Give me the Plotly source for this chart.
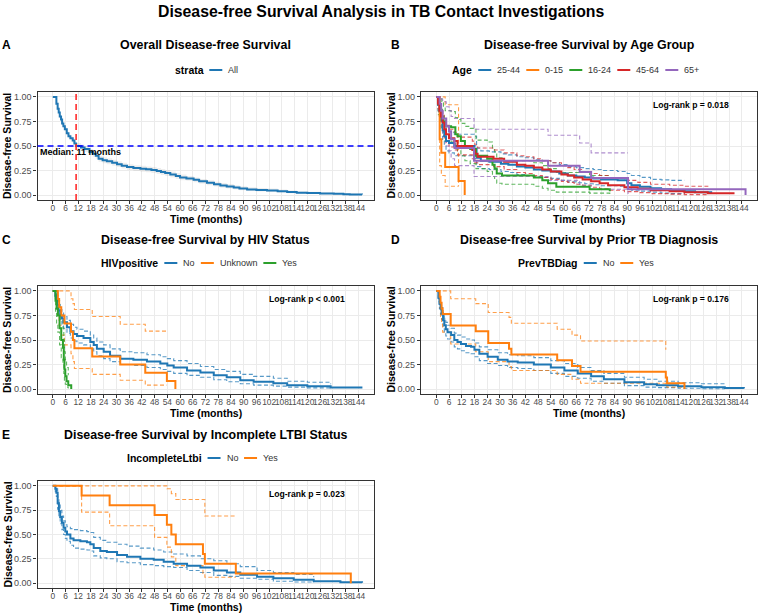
import plotly.graph_objects as go

W, H = 762, 615
FONT = "Liberation Sans, Arial, sans-serif"

# ---------------- data ----------------
TIME_TICKS = [0, 6, 12, 18, 24, 30, 36, 42, 48, 54, 60, 66, 72, 78, 84, 90, 96, 102, 108, 114, 120, 126, 132, 138, 144]
SURV_TICKS = [0, 0.25, 0.5, 0.75, 1.0]
SURV_TICK_TEXT = ["0.00", "0.25", "0.50", "0.75", "1.00"]
MEDIAN_MONTHS = 11

# Panel A: overall
A_t = [0, 1.7, 2.3, 2.8, 3.3, 3.9, 4.4, 5.0, 5.7, 6.6, 7.4, 8.3, 9.4, 10.2, 11.0, 13.3, 15.0, 17.3, 18.9, 20.3,
       21.6, 23.5, 25.5, 28.0, 30.3, 32.5, 35.0, 38.0, 41.3, 44.0, 46.5, 49.0, 51.0, 53.0, 55.4, 58.0, 60.0, 63.0,
       66.4, 69.0, 72.7, 76.0, 79.0, 82.0, 85.3, 88.0, 91.6, 96.0, 101, 106, 110.5, 115, 120, 126, 132.5, 137, 140, 145.8]
A_s = [1.0, 0.93, 0.88, 0.84, 0.80, 0.77, 0.73, 0.70, 0.67, 0.63, 0.60, 0.58, 0.555, 0.525, 0.50, 0.485, 0.47, 0.44,
       0.42, 0.40, 0.37, 0.355, 0.345, 0.33, 0.315, 0.30, 0.285, 0.275, 0.268, 0.262, 0.255, 0.245, 0.235, 0.225, 0.21,
       0.195, 0.18, 0.17, 0.155, 0.14, 0.125, 0.11, 0.098, 0.087, 0.077, 0.067, 0.058, 0.052, 0.048, 0.04, 0.032, 0.025,
       0.021, 0.017, 0.013, 0.009, 0.007, 0.005]
A_hi = [1.0, 0.95, 0.90, 0.86, 0.82, 0.79, 0.75, 0.72, 0.69, 0.65, 0.62, 0.60, 0.58, 0.55, 0.53, 0.515, 0.50, 0.47,
        0.45, 0.43, 0.40, 0.385, 0.375, 0.36, 0.345, 0.33, 0.315, 0.305, 0.298, 0.292, 0.285, 0.275, 0.265, 0.255,
        0.24, 0.225, 0.21, 0.195, 0.18, 0.165, 0.15, 0.135, 0.123, 0.112, 0.1, 0.09, 0.08, 0.072, 0.066, 0.056, 0.047,
        0.04, 0.035, 0.03, 0.025, 0.02, 0.017, 0.015]
A_lo = [1.0, 0.91, 0.86, 0.82, 0.78, 0.75, 0.71, 0.68, 0.65, 0.61, 0.58, 0.56, 0.53, 0.50, 0.47, 0.455, 0.44, 0.41,
        0.39, 0.37, 0.34, 0.325, 0.315, 0.30, 0.285, 0.27, 0.255, 0.245, 0.238, 0.232, 0.225, 0.215, 0.205, 0.195,
        0.18, 0.165, 0.15, 0.145, 0.13, 0.115, 0.1, 0.088, 0.076, 0.066, 0.058, 0.05, 0.042, 0.036, 0.032, 0.026,
        0.02, 0.014, 0.011, 0.008, 0.005, 0.003, 0.002, 0.001]

# Panel B: age groups
AGE_GROUPS = ["25-44", "0-15", "16-24", "45-64", "65+"]
B1_t = [0, 0.8, 1.5, 2.2, 3.0, 3.8, 4.6, 6.0, 8.5, 18.0, 19.0, 21.0, 25.0, 30.5, 34.0, 38.0, 42.0, 46.0, 50.0, 54.0,
        58.0, 62.0, 66.0, 70.0, 74.0, 77.7, 85.5, 90.0, 92.0, 96.0, 101.0, 106.0, 110.7, 117.0, 122.0, 129.6]
B1_s = [1.0, 0.92, 0.85, 0.76, 0.66, 0.6, 0.55, 0.53, 0.5, 0.47, 0.38, 0.35, 0.34, 0.32, 0.31, 0.29, 0.28, 0.26, 0.25,
        0.24, 0.22, 0.2, 0.19, 0.18, 0.17, 0.16, 0.15, 0.12, 0.1, 0.085, 0.07, 0.06, 0.05, 0.04, 0.03, 0.02]
B1_hi = [1.0, 0.98, 0.93, 0.85, 0.76, 0.7, 0.66, 0.64, 0.62, 0.6, 0.48, 0.45, 0.44, 0.42, 0.41, 0.39, 0.38, 0.36, 0.35,
         0.33, 0.31, 0.29, 0.28, 0.27, 0.26, 0.25, 0.24, 0.22, 0.2, 0.18, 0.16, 0.155, 0.15, 0.15, None, None]
B1_lo = [1.0, 0.86, 0.77, 0.67, 0.56, 0.5, 0.45, 0.43, 0.4, 0.37, 0.29, 0.27, 0.26, 0.24, 0.23, 0.21, 0.2, 0.19, 0.18,
         0.17, 0.15, 0.135, 0.125, 0.115, 0.105, 0.095, 0.09, 0.065, 0.05, 0.04, 0.03, 0.022, 0.015, 0.01, None, None]

B2_t = [0, 1.6, 2.4, 4.2, 10.5, 13.4]
B2_s = [1.0, 0.57, 0.43, 0.286, 0.143, 0.0]
B2_hi = [1.0, 1.0, 1.0, 0.92, 0.09, None]
B2_lo = [1.0, 0.3, 0.2, 0.09, 0.09, None]

B3_t = [0, 1.0, 1.8, 2.6, 3.4, 4.2, 7.0, 9.0, 10.0, 11.6, 13.5, 16.0, 18.7, 24.0, 26.5, 27.5, 28.5, 31.0, 46.0, 50.0,
        52.7, 56.6, 72.3, 81.8]
B3_s = [1.0, 0.93, 0.87, 0.8, 0.75, 0.7, 0.69, 0.62, 0.6, 0.55, 0.5, 0.47, 0.4, 0.37, 0.31, 0.27, 0.22, 0.2, 0.18,
        0.15, 0.12, 0.085, 0.06, 0.04]
B3_hi = [1.0, 1.0, 0.98, 0.94, 0.9, 0.86, 0.85, 0.79, 0.77, 0.73, 0.7, 0.68, 0.56, 0.54, 0.48, 0.44, 0.38, 0.35, 0.33,
         0.3, 0.27, 0.23, 0.2, 0.18]
B3_lo = [1.0, 0.82, 0.75, 0.66, 0.6, 0.55, 0.54, 0.47, 0.45, 0.4, 0.35, 0.32, 0.27, 0.24, 0.19, 0.16, 0.12, 0.11,
         0.09, 0.07, 0.05, 0.03, 0.02, 0.01]

B4_t = [0, 0.8, 1.5, 2.2, 3.0, 3.8, 4.6, 6.0, 8.5, 10.0, 17.0, 18.2, 19.5, 27.0, 32.0, 38.0, 42.0, 46.0, 50.0, 54.0,
        59.0, 62.0, 65.0, 69.0, 73.0, 77.0, 81.0, 88.7, 95.0, 101.0, 110.0, 117.0, 128.0, 140.6]
B4_s = [1.0, 0.93, 0.86, 0.8, 0.74, 0.67, 0.62, 0.58, 0.55, 0.5, 0.46, 0.42, 0.39, 0.37, 0.34, 0.31, 0.3, 0.28, 0.26,
        0.24, 0.21, 0.2, 0.18, 0.16, 0.14, 0.12, 0.10, 0.08, 0.065, 0.05, 0.04, 0.03, 0.02, 0.02]
B4_hi = [1.0, 0.97, 0.92, 0.87, 0.82, 0.76, 0.71, 0.67, 0.64, 0.59, 0.55, 0.51, 0.48, 0.46, 0.43, 0.4, 0.39, 0.37,
         0.35, 0.33, 0.3, 0.28, 0.26, 0.24, 0.22, 0.2, 0.17, 0.15, 0.13, 0.11, 0.1, 0.09, 0.085, None]
B4_lo = [1.0, 0.88, 0.8, 0.73, 0.66, 0.58, 0.53, 0.49, 0.46, 0.41, 0.37, 0.33, 0.31, 0.29, 0.26, 0.23, 0.22, 0.2,
         0.18, 0.16, 0.14, 0.13, 0.11, 0.1, 0.08, 0.065, 0.05, 0.035, 0.025, 0.015, 0.01, 0.005, 0.003, None]

B5_t = [0, 1.6, 2.3, 3.0, 4.7, 6.0, 7.0, 8.6, 17.8, 52.7, 67.6, 73.0, 90.4, 145.8]
B5_s = [1.0, 0.93, 0.86, 0.78, 0.7, 0.65, 0.57, 0.48, 0.35, 0.30, 0.235, 0.175, 0.06, 0.0]
B5_hi = [1.0, 1.0, 0.98, 0.95, 0.9, 0.86, 0.8, 0.78, 0.67, 0.61, 0.53, 0.43, 0.43, None]
B5_lo = [1.0, 0.8, 0.7, 0.6, 0.5, 0.45, 0.37, 0.3, 0.19, 0.15, 0.1, 0.06, 0.01, None]

# Panel C: HIV status
HIV_GROUPS = ["No", "Unknown", "Yes"]
C1_t = [0, 1.2, 2.0, 2.7, 3.5, 4.3, 5.1, 6.7, 8.3, 9.8, 11.4, 14.5, 17.7, 19.3, 20.8, 24.0, 27.0, 31.8, 38.0, 44.4,
        50.7, 54.0, 57.0, 63.3, 69.6, 75.9, 82.0, 88.4, 94.7, 104.0, 110.5, 120.0, 131.0, 145.5]
C1_s = [1.0, 0.95, 0.86, 0.8, 0.75, 0.72, 0.68, 0.63, 0.59, 0.56, 0.54, 0.52, 0.48, 0.45, 0.41, 0.38, 0.34, 0.31,
        0.30, 0.28, 0.26, 0.24, 0.22, 0.19, 0.17, 0.14, 0.12, 0.09, 0.075, 0.06, 0.04, 0.03, 0.015, 0.005]
C1_hi = [1.0, 0.98, 0.91, 0.86, 0.81, 0.78, 0.74, 0.7, 0.66, 0.63, 0.61, 0.59, 0.55, 0.52, 0.48, 0.45, 0.41, 0.38,
         0.37, 0.35, 0.33, 0.31, 0.29, 0.26, 0.23, 0.2, 0.18, 0.15, 0.13, 0.11, 0.08, 0.07, 0.05, None]
C1_lo = [1.0, 0.92, 0.81, 0.74, 0.69, 0.66, 0.62, 0.57, 0.52, 0.49, 0.47, 0.45, 0.41, 0.38, 0.34, 0.31, 0.28, 0.25,
         0.24, 0.22, 0.2, 0.18, 0.16, 0.14, 0.12, 0.095, 0.075, 0.055, 0.04, 0.03, 0.02, 0.012, 0.004, None]

C2_t = [0, 2.4, 3.0, 4.0, 5.5, 8.6, 9.5, 10.2, 18.6, 31.8, 43.6, 53.8, 57.8]
C2_s = [1.0, 0.917, 0.833, 0.75, 0.667, 0.583, 0.5, 0.417, 0.333, 0.25, 0.167, 0.083, 0.0]
C2_hi = [1.0, 1.0, 1.0, 1.0, 1.0, 0.92, 0.87, 0.81, 0.74, 0.66, 0.59, 0.59, None]
C2_lo = [1.0, 0.77, 0.65, 0.55, 0.45, 0.36, 0.28, 0.21, 0.15, 0.09, 0.04, 0.04, None]

C3_t = [0, 1.3, 1.8, 2.4, 3.2, 4.0, 4.8, 5.2, 5.5, 5.9, 6.5, 7.3, 8.7]
C3_s = [1.0, 0.9, 0.82, 0.75, 0.62, 0.5, 0.42, 0.3, 0.2, 0.13, 0.08, 0.04, 0.0]
C3_hi = [1.0, 0.98, 0.95, 0.9, 0.8, 0.7, 0.62, 0.5, 0.38, 0.3, 0.22, 0.14, None]
C3_lo = [1.0, 0.78, 0.66, 0.58, 0.45, 0.32, 0.25, 0.16, 0.09, 0.05, 0.02, 0.005, None]

# Panel D: prior TB diagnosis
PREV_GROUPS = ["No", "Yes"]
D1_t = [0, 1.0, 1.5, 2.0, 2.5, 3.2, 3.8, 4.5, 5.3, 7.0, 8.5, 10.0, 11.6, 14.0, 16.4, 18.0, 20.3, 24.2, 29.0, 33.6,
        38.4, 46.0, 54.0, 60.4, 66.7, 73.0, 79.0, 88.7, 98.0, 104.0, 114.0, 125.0, 136.0, 145.0]
D1_s = [1.0, 0.93, 0.87, 0.82, 0.77, 0.7, 0.65, 0.61, 0.58, 0.55, 0.5, 0.48, 0.46, 0.44, 0.43, 0.4, 0.36, 0.33, 0.3,
        0.28, 0.27, 0.25, 0.22, 0.19, 0.16, 0.13, 0.1, 0.07, 0.05, 0.04, 0.03, 0.02, 0.01, 0.005]
D1_hi = [1.0, 0.97, 0.92, 0.88, 0.83, 0.77, 0.72, 0.68, 0.65, 0.62, 0.57, 0.55, 0.53, 0.51, 0.5, 0.47, 0.43, 0.4,
         0.37, 0.35, 0.34, 0.32, 0.29, 0.26, 0.22, 0.19, 0.16, 0.12, 0.1, 0.08, 0.065, 0.055, 0.05, None]
D1_lo = [1.0, 0.89, 0.82, 0.76, 0.71, 0.63, 0.58, 0.54, 0.51, 0.48, 0.43, 0.41, 0.39, 0.37, 0.36, 0.33, 0.29, 0.26,
         0.24, 0.22, 0.21, 0.19, 0.16, 0.13, 0.11, 0.08, 0.06, 0.035, 0.02, 0.015, 0.008, 0.004, 0.001, None]

D2_t = [0, 1.6, 2.0, 2.5, 3.0, 6.8, 18.6, 24.5, 34.3, 35.4, 57.0, 64.0, 68.0, 108.2, 108.8, 117.0]
D2_s = [1.0, 0.94, 0.88, 0.82, 0.765, 0.647, 0.588, 0.47, 0.412, 0.353, 0.294, 0.235, 0.176, 0.118, 0.059, 0.0]
D2_hi = [1.0, 1.0, 1.0, 1.0, 1.0, 0.92, 0.87, 0.78, 0.73, 0.67, 0.61, 0.55, 0.49, 0.40, None, None]
D2_lo = [1.0, 0.83, 0.74, 0.66, 0.58, 0.46, 0.38, 0.28, 0.23, 0.19, 0.15, 0.1, 0.06, 0.03, 0.02, 0.02]

# Panel E: incomplete LTBI
LTBI_GROUPS = ["No", "Yes"]
E1_t = [0, 1.2, 1.7, 2.3, 2.9, 3.5, 4.3, 5.1, 5.9, 6.7, 8.3, 9.8, 13.0, 16.1, 17.7, 19.3, 22.4, 25.5, 30.3, 35.0,
        41.3, 47.6, 52.3, 57.0, 63.3, 69.6, 75.9, 82.1, 88.4, 96.3, 104.0, 113.6, 123.0, 135.6, 145.8]
E1_s = [1.0, 0.97, 0.93, 0.82, 0.74, 0.68, 0.62, 0.57, 0.53, 0.5, 0.46, 0.44, 0.43, 0.42, 0.4, 0.36, 0.33, 0.32,
        0.29, 0.27, 0.25, 0.24, 0.22, 0.2, 0.18, 0.16, 0.13, 0.11, 0.085, 0.065, 0.05, 0.035, 0.02, 0.01, 0.005]
E1_hi = [1.0, 1.0, 0.97, 0.88, 0.81, 0.75, 0.69, 0.64, 0.6, 0.58, 0.56, 0.55, 0.54, 0.53, 0.52, 0.47, 0.44, 0.42,
         0.4, 0.38, 0.36, 0.34, 0.32, 0.3, 0.28, 0.25, 0.23, 0.2, 0.17, 0.13, 0.11, 0.09, 0.06, None, None]
E1_lo = [1.0, 0.94, 0.89, 0.76, 0.67, 0.61, 0.55, 0.5, 0.46, 0.43, 0.39, 0.36, 0.35, 0.34, 0.33, 0.28, 0.26, 0.25,
         0.22, 0.21, 0.19, 0.18, 0.17, 0.16, 0.13, 0.11, 0.08, 0.07, 0.05, 0.04, 0.02, 0.012, 0.005, None, None]

E2_t = [0, 13.6, 26.8, 48.0, 53.8, 55.9, 58.0, 70.8, 71.7, 86.3, 140.5]
E2_s = [1.0, 0.9, 0.8, 0.7, 0.6, 0.5, 0.4, 0.3, 0.2, 0.1, 0.0]
E2_hi = [1.0, 1.0, 1.0, 1.0, 0.97, 0.92, 0.86, 0.86, 0.69, 0.69, None]
E2_lo = [1.0, 0.73, 0.59, 0.47, 0.37, 0.27, 0.18, 0.1, 0.06, 0.06, None]

LOGRANK = {2: "Log-rank p = 0.018", 3: "Log-rank p < 0.001", 4: "Log-rank p = 0.176", 5: "Log-rank p = 0.023"}

# ---------------- styling ----------------
BLUE, ORANGE, GREEN, RED, PURPLE = "#1F77B4", "#FF7F0E", "#2CA02C", "#D62728", "#9467BD"


def rgba(h, a):
    h = h.lstrip("#")
    return "rgba(%d,%d,%d,%s)" % (int(h[0:2], 16), int(h[2:4], 16), int(h[4:6], 16), a)


# panel pixel boxes: (left, right, top, bottom)
PANEL = {
    1: (37.5, 373.5, 92, 200),
    2: (421, 757, 92, 200),
    3: (37.5, 373.5, 286, 394),
    4: (421, 757, 286, 394),
    5: (37.5, 373.5, 481, 588),
}
TITLE_Y = {1: 45, 2: 45, 3: 240, 4: 240, 5: 435}
LEG_Y = {1: 70, 2: 70, 3: 263, 4: 263, 5: 458}
LETTER_X = {1: 6, 2: 395, 3: 6, 4: 395, 5: 6}
TITLES = {1: "Overall Disease-free Survival", 2: "Disease-free Survival by Age Group",
          3: "Disease-free Survival by HIV Status", 4: "Disease-free Survival by Prior TB Diagnosis",
          5: "Disease-free Survival by Incomplete LTBI Status"}
LETTERS = {1: "A", 2: "B", 3: "C", 4: "D", 5: "E"}

REG = {' ': 278, '+': 584, '-': 333, 'A': 667, 'N': 722, 'U': 722, 'Y': 667, 'l': 222, 'o': 556, 'n': 556,
       'k': 500, 'w': 722, 'e': 556, 's': 500}
BOLD = {'a': 556, 'b': 611, 'c': 556, 'e': 556, 'g': 611, 'i': 278, 'l': 278, 'm': 889, 'o': 611, 'p': 611,
        'r': 389, 's': 556, 't': 333, 'v': 556, 'A': 722, 'B': 722, 'D': 722, 'H': 722, 'I': 278, 'L': 611,
        'P': 667, 'T': 611, 'V': 667, ' ': 278}


def text_w(s, size, bold):
    tab = BOLD if bold else REG
    return sum(tab.get(c, 556) for c in s) / 1000.0 * size


def px(x):
    return x / W


def py(y):
    return 1 - y / H


fig = go.Figure()
annotations = []
shapes = []


def ax(i):
    return ("x" if i == 1 else "x%d" % i), ("y" if i == 1 else "y%d" % i)


def add_step(i, t, v, color, width, dash=None):
    xa, ya = ax(i)
    fig.add_trace(go.Scatter(x=t, y=v, mode="lines", line=dict(color=color, width=width, shape="hv", dash=dash),
                             xaxis=xa, yaxis=ya, showlegend=False, hoverinfo="skip", connectgaps=False))


def add_km(i, t, s, lo, hi, color):
    add_step(i, t, hi, rgba(color, 0.75), 1.1, "4px,2.5px")
    add_step(i, t, lo, rgba(color, 0.75), 1.1, "4px,2.5px")


def add_ann(text, x, y, size, bold=True, color="black", xanchor="center", angle=0):
    annotations.append(dict(text=("<b>%s</b>" % text) if bold else text, x=px(x), y=py(y), xref="paper",
                            yref="paper", showarrow=False, xanchor=xanchor, yanchor="middle", textangle=angle,
                            borderpad=0, font=dict(size=size, color=color, family=FONT)))


def legend(i, title, labels, colors):
    l, r, _, _ = PANEL[i]
    cx = (l + r) / 2
    tsz, isz = 10.5, 9
    widths = [text_w(lb, isz, False) for lb in labels]
    total = text_w(title, tsz, True) + sum(7 + 13 + 5 + w for w in widths) + 7 * (len(labels) - 1)
    x = cx - total / 2
    y = LEG_Y[i]
    add_ann(title, x, y, tsz, True, "black", "left")
    x += text_w(title, tsz, True) + 7
    for lb, c, w in zip(labels, colors, widths):
        shapes.append(dict(type="line", xref="paper", yref="paper", x0=px(x), x1=px(x + 13), y0=py(y), y1=py(y),
                           line=dict(color=c, width=2)))
        add_ann(lb, x + 13 + 5, y, isz, False, "#333333", "left")
        x += 13 + 5 + w + 7


# ---- Panel A ----
fig.add_trace(go.Scatter(x=A_t, y=A_lo, mode="lines", line=dict(width=0, shape="hv"), showlegend=False,
                         hoverinfo="skip", xaxis="x", yaxis="y"))
fig.add_trace(go.Scatter(x=A_t, y=A_hi, mode="lines", line=dict(width=0, shape="hv"), fill="tonexty",
                         fillcolor="rgba(150,150,150,0.16)", showlegend=False, hoverinfo="skip", xaxis="x", yaxis="y"))
add_step(1, A_t, A_s, BLUE, 2)
shapes.append(dict(type="line", xref="x domain", yref="y", x0=0, x1=1, y0=0.5, y1=0.5,
                   line=dict(color="#0000FF", width=1.6, dash="6px,4px")))
shapes.append(dict(type="line", xref="x", yref="y domain", x0=MEDIAN_MONTHS, x1=MEDIAN_MONTHS, y0=0, y1=1,
                   line=dict(color="#FF2A2A", width=1.6, dash="6px,4px")))
annotations.append(dict(text="<b>Median: %d months</b>" % MEDIAN_MONTHS, x=-6.3, y=0.44, xref="x", yref="y",
                        showarrow=False, xanchor="left", yanchor="middle", borderpad=0,
                        font=dict(size=9, color="black", family=FONT)))
legend(1, "strata", ["All"], [BLUE])

# ---- Panel B ----
B_data = [(B1_t, B1_s, B1_lo, B1_hi, BLUE), (B2_t, B2_s, B2_lo, B2_hi, ORANGE), (B3_t, B3_s, B3_lo, B3_hi, GREEN),
          (B4_t, B4_s, B4_lo, B4_hi, RED), (B5_t, B5_s, B5_lo, B5_hi, PURPLE)]
for t, s, lo, hi, c in B_data:
    add_km(2, t, s, lo, hi, c)
for t, s, lo, hi, c in B_data:
    add_step(2, t, s, c, 2)
legend(2, "Age", AGE_GROUPS, [BLUE, ORANGE, GREEN, RED, PURPLE])

# ---- Panel C ----
C_data = [(C1_t, C1_s, C1_lo, C1_hi, BLUE), (C2_t, C2_s, C2_lo, C2_hi, ORANGE), (C3_t, C3_s, C3_lo, C3_hi, GREEN)]
for t, s, lo, hi, c in C_data:
    add_km(3, t, s, lo, hi, c)
for t, s, lo, hi, c in C_data:
    add_step(3, t, s, c, 2)
legend(3, "HIVpositive", HIV_GROUPS, [BLUE, ORANGE, GREEN])

# ---- Panel D ----
D_data = [(D1_t, D1_s, D1_lo, D1_hi, BLUE), (D2_t, D2_s, D2_lo, D2_hi, ORANGE)]
for t, s, lo, hi, c in D_data:
    add_km(4, t, s, lo, hi, c)
for t, s, lo, hi, c in D_data:
    add_step(4, t, s, c, 2)
legend(4, "PrevTBDiag", PREV_GROUPS, [BLUE, ORANGE])

# ---- Panel E ----
E_data = [(E1_t, E1_s, E1_lo, E1_hi, BLUE), (E2_t, E2_s, E2_lo, E2_hi, ORANGE)]
for t, s, lo, hi, c in E_data:
    add_km(5, t, s, lo, hi, c)
for t, s, lo, hi, c in E_data:
    add_step(5, t, s, c, 2)
legend(5, "IncompleteLtbi", LTBI_GROUPS, [BLUE, ORANGE])

# ---- axes, titles ----
layout_axes = {}
for i, (l, r, top, bot) in PANEL.items():
    xa, ya = ax(i)
    xkey = "xaxis" if i == 1 else "xaxis%d" % i
    ykey = "yaxis" if i == 1 else "yaxis%d" % i
    common = dict(showgrid=True, gridcolor="#EBEBEB", gridwidth=1, zeroline=False, showline=True, mirror=True,
                  linecolor="#333333", linewidth=1.2, ticks="outside", ticklen=3, tickwidth=1,
                  tickcolor="#333333", tickangle=0)
    layout_axes[xkey] = dict(domain=[px(l), px(r)], range=[-7.2, 151.2], anchor=ya, tickvals=TIME_TICKS,
                             ticktext=[str(v) for v in TIME_TICKS], ticklabelstandoff=-3,
                             tickfont=dict(size=8.4, color="#4D4D4D", family=FONT), **common)
    layout_axes[ykey] = dict(domain=[py(bot), py(top)], range=[-0.05, 1.05], anchor=xa, tickvals=SURV_TICKS,
                             ticktext=SURV_TICK_TEXT, tickfont=dict(size=9, color="#4D4D4D", family=FONT), **common)
    cx = (l + r) / 2
    add_ann(TITLES[i], cx, TITLE_Y[i], 12.4)
    add_ann(LETTERS[i], LETTER_X[i], TITLE_Y[i], 12)
    add_ann("Time (months)", cx, bot + 19, 10.5)
    add_ann("Disease-free Survival", l - 30.5, (top + bot) / 2, 10.5, angle=-90)
    if i in LOGRANK:
        annotations.append(dict(text="<b>%s</b>" % LOGRANK[i], x=120, y=0.92, xref=xa, yref=ya, showarrow=False,
                                xanchor="center", yanchor="middle", borderpad=0,
                                font=dict(size=8.6, color="black", family=FONT)))

add_ann("Disease-free Survival Analysis in TB Contact Investigations", 381, 11, 15.8)

fig.update_layout(width=W, height=H, autosize=False, margin=dict(l=0, r=0, t=0, b=0),
                  paper_bgcolor="white", plot_bgcolor="white", font=dict(family=FONT),
                  annotations=annotations, shapes=shapes, showlegend=False, **layout_axes)

fig.write_html("out.html")
